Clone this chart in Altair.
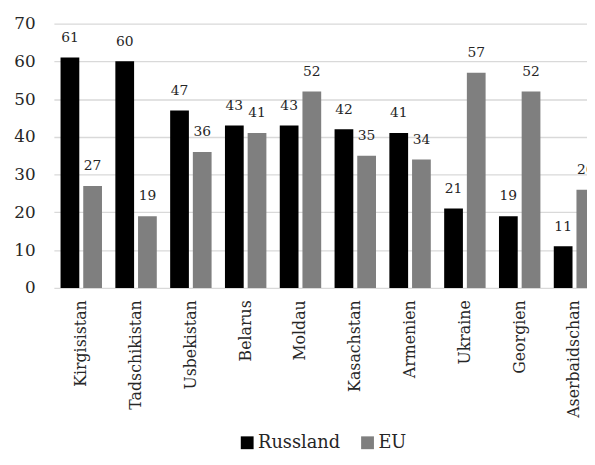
import altair as alt
import pandas as pd

countries = ["Kirgisistan", "Tadschikistan", "Usbekistan", "Belarus", "Moldau",
             "Kasachstan", "Armenien", "Ukraine", "Georgien", "Aserbaidschan"]
russland = [61, 60, 47, 43, 43, 42, 41, 21, 19, 11]
eu = [27, 19, 36, 41, 52, 35, 34, 57, 52, 26]
series = ["Russland", "EU"]
colors = ["#000000", "#7f7f7f"]

rows = []
for c, r, e in zip(countries, russland, eu):
    rows.append({"Land": c, "Serie": "Russland", "Wert": r})
    rows.append({"Land": c, "Serie": "EU", "Wert": e})
df = pd.DataFrame(rows)

FONT = "DejaVu Serif"
TXT = "#262626"

x = alt.X("Land:N", sort=countries, title=None,
          scale=alt.Scale(range=[0, 555.6], paddingInner=0.244, paddingOuter=0.122),
          axis=alt.Axis(labelAngle=-90, labelFont=FONT, labelFontSize=16, labelColor=TXT,
                        ticks=False, tickSize=0, domain=False, labelPadding=12, grid=False))
xo = alt.XOffset("Serie:N", sort=series,
                 scale=alt.Scale(paddingInner=0.174, paddingOuter=0))
y = alt.Y("Wert:Q", title=None, scale=alt.Scale(domain=[0, 70]),
          axis=alt.Axis(values=list(range(0, 71, 10)), domain=False, ticks=False, tickSize=0,
                        labelFont=FONT, labelFontSize=17, labelColor=TXT, labelPadding=19,
                        gridColor="#d9d9d9", gridWidth=1.3))

base = alt.Chart(df).encode(x=x, xOffset=xo, y=y)

bars = base.mark_bar(clip=True).encode(
    color=alt.Color("Serie:N", sort=series,
                    scale=alt.Scale(domain=series, range=colors),
                    legend=alt.Legend(orient="none", legendX=187, legendY=416,
                                      direction="horizontal", title=None,
                                      symbolType="square", symbolSize=169,
                                      symbolStrokeWidth=0, labelFont=FONT,
                                      labelFontSize=18, labelColor=TXT,
                                      labelOffset=2, columnPadding=18))
)

labels = base.mark_text(dy=-16, baseline="alphabetic", font=FONT, fontSize=14,
                        color=TXT, clip=True).encode(text="Wert:Q")

chart = alt.layer(bars, labels).properties(
    width=540.5, height=268,
    autosize=alt.AutoSizeParams(type="none"),
    padding={"left": 46.5, "top": 12.7, "right": 0, "bottom": 164.3},
).configure_view(stroke=None)

chart.save("out.html", embed_options={"renderer": "svg", "actions": False})
